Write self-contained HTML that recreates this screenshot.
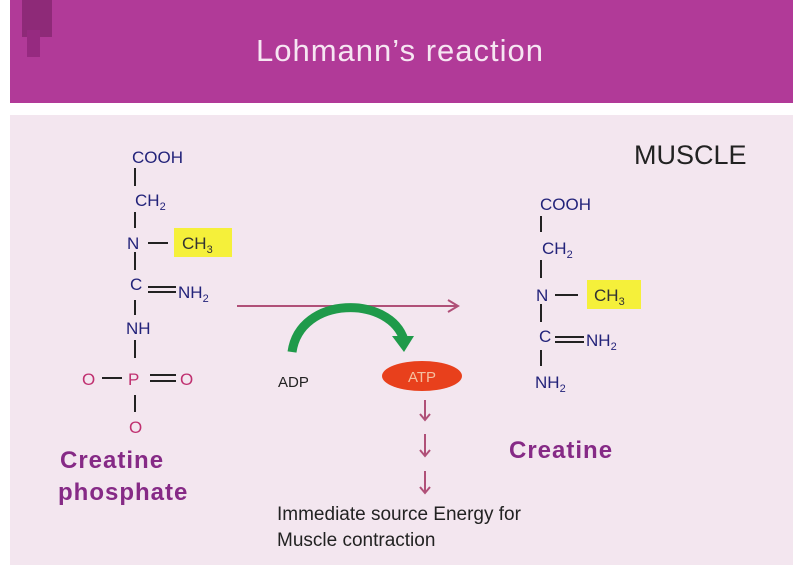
<!DOCTYPE html>
<html><head><meta charset="utf-8"><style>
body{margin:0;width:800px;height:573px;background:#fff;overflow:hidden}
svg{display:block;font-family:"Liberation Sans",sans-serif}
</style></head><body>
<svg width="800" height="573" viewBox="0 0 800 573">
<rect x="10" y="0" width="783" height="103" fill="#b13a98"/>
<rect x="22" y="0" width="30" height="37" fill="#8e2a78"/>
<rect x="27" y="30" width="13" height="27" fill="#962a80"/>
<text x="400" y="61" font-size="31" fill="#f6e6f2" text-anchor="middle" letter-spacing="1">Lohmann’s reaction</text>
<rect x="10" y="115" width="783" height="450" fill="#f3e6ef"/>
<text x="634" y="164" font-size="27" fill="#222">MUSCLE</text>
<g fill="#23237a" font-size="17">
<text x="132" y="163">COOH</text>
<text x="135" y="206">CH<tspan font-size="11" dy="4">2</tspan></text>
<rect x="174" y="228" width="58" height="29" fill="#f5f03a"/>
<text x="127" y="249">N</text>
<text x="182" y="249" fill="#333">CH<tspan font-size="11" dy="4">3</tspan></text>
<text x="130" y="290">C</text>
<text x="178" y="298">NH<tspan font-size="11" dy="4">2</tspan></text>
<text x="126" y="334">NH</text>
<text x="540" y="210">COOH</text>
<text x="542" y="254">CH<tspan font-size="11" dy="4">2</tspan></text>
<rect x="587" y="280" width="54" height="29" fill="#f5f03a"/>
<text x="536" y="301">N</text>
<text x="594" y="301" fill="#333">CH<tspan font-size="11" dy="4">3</tspan></text>
<text x="539" y="342">C</text>
<text x="586" y="346">NH<tspan font-size="11" dy="4">2</tspan></text>
<text x="535" y="388">NH<tspan font-size="11" dy="4">2</tspan></text>
</g>
<g stroke="#222" stroke-width="2">
<line x1="135" y1="168" x2="135" y2="186"/><line x1="135" y1="212" x2="135" y2="228"/>
<line x1="148" y1="243" x2="168" y2="243"/><line x1="135" y1="252" x2="135" y2="270"/>
<line x1="148" y1="287" x2="176" y2="287"/><line x1="148" y1="292" x2="176" y2="292"/>
<line x1="135" y1="300" x2="135" y2="315"/><line x1="135" y1="340" x2="135" y2="358"/>
<line x1="102" y1="378" x2="122" y2="378"/><line x1="150" y1="375" x2="176" y2="375"/><line x1="150" y1="381" x2="176" y2="381"/>
<line x1="135" y1="395" x2="135" y2="412"/>
<line x1="541" y1="216" x2="541" y2="232"/><line x1="541" y1="260" x2="541" y2="278"/>
<line x1="555" y1="295" x2="578" y2="295"/><line x1="541" y1="304" x2="541" y2="322"/>
<line x1="555" y1="337" x2="584" y2="337"/><line x1="555" y1="342" x2="584" y2="342"/>
<line x1="541" y1="350" x2="541" y2="366"/>
</g>
<g fill="#c03070" font-size="17">
<text x="82" y="385">O</text><text x="128" y="385">P</text><text x="180" y="385">O</text><text x="129" y="433">O</text>
</g>
<g font-size="24" font-weight="bold" fill="#862a86" letter-spacing="1">
<text x="60" y="468">Creatine</text><text x="58" y="500">phosphate</text>
<text x="509" y="458">Creatine</text>
</g>
<g stroke="#b05078" stroke-width="2" fill="none">
<line x1="237" y1="306" x2="458" y2="306"/><polyline points="448,300 458,306 448,312"/>
</g>
<path d="M292,352 C300,295 390,295 404,340" stroke="#1f9a4a" stroke-width="9" fill="none"/>
<polygon points="392,336 414,336 404,352" fill="#1f9a4a"/>
<text x="278" y="387" font-size="15" fill="#222">ADP</text>
<ellipse cx="422" cy="376" rx="40" ry="15" fill="#e8401c"/>
<text x="422" y="382" font-size="15" fill="#f5c0a0" text-anchor="middle">ATP</text>
<g stroke="#b05078" stroke-width="2" fill="none">
<line x1="425" y1="400" x2="425" y2="420"/><polyline points="420,414 425,420 430,414"/>
<line x1="425" y1="434" x2="425" y2="456"/><polyline points="420,450 425,456 430,450"/>
<line x1="425" y1="471" x2="425" y2="493"/><polyline points="420,487 425,493 430,487"/>
</g>
<text x="277" y="520" font-size="19" fill="#222">Immediate source Energy for</text>
<text x="277" y="546" font-size="19" fill="#222">Muscle contraction</text>
</svg>
</body></html>
